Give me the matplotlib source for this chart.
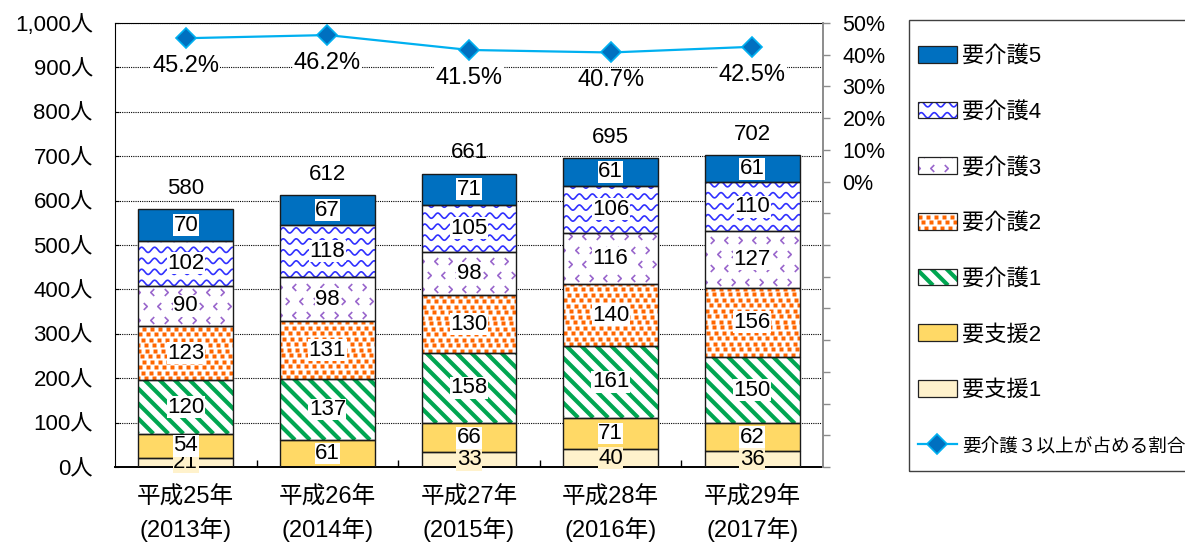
import numpy as np
import matplotlib
matplotlib.use('Agg')
import matplotlib.pyplot as plt
from matplotlib.lines import Line2D
from matplotlib.patches import Rectangle
from matplotlib.path import Path
from matplotlib.transforms import Affine2D
from matplotlib.legend_handler import HandlerBase

plt.rcParams['font.family'] = ['Liberation Sans', 'Noto Sans CJK JP', 'DejaVu Sans']

# DATA
years = ['平成25年\n(2013年)', '平成26年\n(2014年)', '平成27年\n(2015年)',
         '平成28年\n(2016年)', '平成29年\n(2017年)']
shien1 = [21, 0, 33, 40, 36]
shien2 = [54, 61, 66, 71, 62]
kaigo1 = [120, 137, 158, 161, 150]
kaigo2 = [123, 131, 130, 140, 156]
kaigo3 = [90, 98, 98, 116, 127]
kaigo4 = [102, 118, 105, 106, 110]
kaigo5 = [70, 67, 71, 61, 61]
ratio = [45.2, 46.2, 41.5, 40.7, 42.5]   # 要介護3以上が占める割合 (%)
left_ticks = [0, 100, 200, 300, 400, 500, 600, 700, 800, 900, 1000]
right_ticks = [-90, -80, -70, -60, -50, -40, -30, -20, -10, 0, 10, 20, 30, 40, 50]

series = [
    ('要支援1', shien1, '#fff2cc', None),
    ('要支援2', shien2, '#ffd966', None),
    ('要介護1', kaigo1, 'white', 'stripe'),
    ('要介護2', kaigo2, 'white', 'dots'),
    ('要介護3', kaigo3, 'white', 'chevron'),
    ('要介護4', kaigo4, 'white', 'wave'),
    ('要介護5', kaigo5, '#0070c0', None),
]

CHEV_L = Path([(0.5, 1), (-0.5, 0), (0.5, -1)], [Path.MOVETO, Path.LINETO, Path.LINETO])
CHEV_R = Path([(-0.5, 1), (0.5, 0), (-0.5, -1)], [Path.MOVETO, Path.LINETO, Path.LINETO])


def pattern(kind, w, h):
    """fill texture for a w x h pixel box, origin bottom-left"""
    out = []
    if kind == 'wave':
        xs = np.arange(-2, w + 2, 0.5)
        for y in np.arange(3, h + 8, 11):
            out.append(Line2D(xs, y + 2.6 * np.sin(2 * np.pi * xs / 13), color='#3030ff', lw=1.2))
    elif kind == 'stripe':
        for c in np.arange(0, w + h + 20, 15):
            out.append(Line2D([c, c - (w + h + 20)], [0, w + h + 20], color='#00a651', lw=3.0,
                              solid_capstyle='butt'))
    elif kind == 'dots':
        px, py = [], []
        offs = [0, 4.5, 2, 6, 3.5, 1]
        for r, y in enumerate(np.arange(2, h + 4, 5.5)):
            for x in np.arange(offs[r % 6] - 8, w + 8, 8):
                px.append(x); py.append(y)
        out.append(Line2D(px, py, ls='none', marker='s', ms=3.0, mec='none', mfc='#ff6600'))
    elif kind == 'chevron':
        lx, ly, rx, ry = [], [], [], []
        for r, y in enumerate(np.arange(6, h + 6, 14)):
            for k, x in enumerate(np.arange(-14 + (r % 2) * 7, w + 14, 14)):
                if k % 2 == 0:
                    lx.append(x); ly.append(y)
                else:
                    rx.append(x); ry.append(y)
        out.append(Line2D(lx, ly, ls='none', marker=CHEV_L, ms=5, mfc='none', mec='#9966cc', mew=1.2))
        out.append(Line2D(rx, ry, ls='none', marker=CHEV_R, ms=5, mfc='none', mec='#9966cc', mew=1.2))
    return out


class Swatch:
    def __init__(self, face, kind):
        self.face = face
        self.kind = kind


class SwatchHandler(HandlerBase):
    def create_artists(self, legend, orig, xd, yd, w, h, fontsize, trans):
        rect = Rectangle((-xd, -yd), w, h, facecolor=orig.face, edgecolor='none', transform=trans)
        arts = [rect]
        for ln in pattern(orig.kind, w / 0.72, h / 0.72):
            ln.set_transform(Affine2D().scale(0.72).translate(-xd, -yd) + trans)
            ln.set_clip_path(rect)
            arts.append(ln)
        arts.append(Rectangle((-xd, -yd), w, h, fill=False, edgecolor='#222222', lw=0.9, transform=trans))
        return arts


W, H = 1185, 544
fig = plt.figure(figsize=(W / 100, H / 100), dpi=100)
AX_L, AX_R, AX_T, AX_B = 115, 823, 23, 467
ax = fig.add_axes([AX_L / W, 1 - AX_B / H, (AX_R - AX_L) / W, (AX_B - AX_T) / H])
ax.set_xlim(-0.5, 4.5)
ax.set_ylim(0, 1000)
sx = (AX_R - AX_L) / 5.0      # px per x unit
sy = (AX_B - AX_T) / 1000.0   # px per y unit

x = np.arange(len(years))
bw = 0.67
bottom = np.zeros(len(years))
for name, vals, face, kind in series:
    vals = np.array(vals, dtype=float)
    bars = ax.bar(x, vals, bw, bottom=bottom, color=face, edgecolor='none', zorder=2)
    for i, b in enumerate(bars):
        if vals[i] == 0:
            continue
        if kind:
            for ln in pattern(kind, bw * sx, vals[i] * sy):
                ln.set_transform(Affine2D().scale(1 / sx, 1 / sy).translate(x[i] - bw / 2, bottom[i]) + ax.transData)
                ln.set_zorder(2.5)
                ax.add_line(ln)
                ln.set_clip_path(b)
        ax.add_patch(Rectangle((x[i] - bw / 2, bottom[i]), bw, vals[i], fill=False,
                               edgecolor='#1a1a1a', lw=1.0, zorder=3))
        lab_bg = '#fff2cc' if name == '要支援1' else 'white'
        ax.text(x[i], bottom[i] + vals[i] / 2, f'{int(vals[i])}', ha='center', va='center',
                fontsize=16, zorder=5,
                bbox=dict(boxstyle='square,pad=0.02', fc=lab_bg, ec='none'))
    bottom += vals

for i, t in enumerate(bottom):
    ax.annotate(f'{int(t)}', (x[i], t), xytext=(0, 15), textcoords='offset points',
                ha='center', va='center', fontsize=16)

# left axis
ax.set_yticks(left_ticks)
ax.set_yticklabels([f'{v:,}人' for v in left_ticks])
ax.yaxis.grid(True, linestyle=(0, (1, 1)), color='black', lw=0.8)
ax.set_axisbelow(True)
ax.tick_params(axis='y', direction='in', length=3, pad=16, labelsize=16)
ax.set_xticks(x)
ax.set_xticklabels(years, linespacing=1.4)
ax.set_xticks(x[:-1] + 0.5, minor=True)
ax.tick_params(axis='x', which='major', length=0, pad=14, labelsize=17)
ax.tick_params(axis='x', which='minor', direction='in', length=5, width=1)
for s in ['left', 'top', 'bottom']:
    ax.spines[s].set_color('black')
ax.spines['right'].set_visible(False)
ax.spines['bottom'].set_linewidth(1.4)

# right axis
ax2 = ax.twinx()
ax2.set_ylim(-90, 50)
ax2.set_yticks(right_ticks)
ax2.set_yticklabels([f'{v}%' if v >= 0 else '' for v in right_ticks])
ax2.tick_params(axis='y', direction='out', length=5, width=1, color='#8c8c8c', pad=9, labelsize=15.5)
ax2.spines['right'].set_color('#8c8c8c')
ax2.spines['right'].set_linewidth(1.4)
for s in ['left', 'top', 'bottom']:
    ax2.spines[s].set_visible(False)
ratio_line, = ax2.plot(x, ratio, color='#00b0f0', lw=1.6, marker='D', ms=10,
                       mfc='#0070c0', mec='#00b0f0', mew=1.2, zorder=5)
for i, r in enumerate(ratio):
    ax2.annotate(f'{r:.1f}%', (x[i], r), xytext=(0, -20), textcoords='offset points',
                 ha='center', va='center', fontsize=17,
                 bbox=dict(boxstyle='square,pad=0.05', fc='white', ec='none'))

# legend
fig.add_artist(Rectangle((909 / W, 1 - 471 / H), (1200 - 909) / W, (471 - 20) / H,
                         transform=fig.transFigure, fill=False, edgecolor='#404040', lw=1.0))
handles = [Swatch(face, kind) for name, vals, face, kind in series[::-1]] + [ratio_line]
labels = [name for name, vals, face, kind in series[::-1]] + ['要介護３以上が占める割合']
leg = fig.legend(handles, labels, loc='upper left', bbox_to_anchor=(918 / W, 1 - 46 / H),
                 frameon=False, fontsize=16, borderpad=0, borderaxespad=0,
                 handlelength=1.75, handleheight=0.77, handletextpad=0.22, labelspacing=1.56,
                 handler_map={Swatch: SwatchHandler()})
leg.get_texts()[-1].set_fontsize(13.4)

fig.savefig('out.png', dpi=100)
